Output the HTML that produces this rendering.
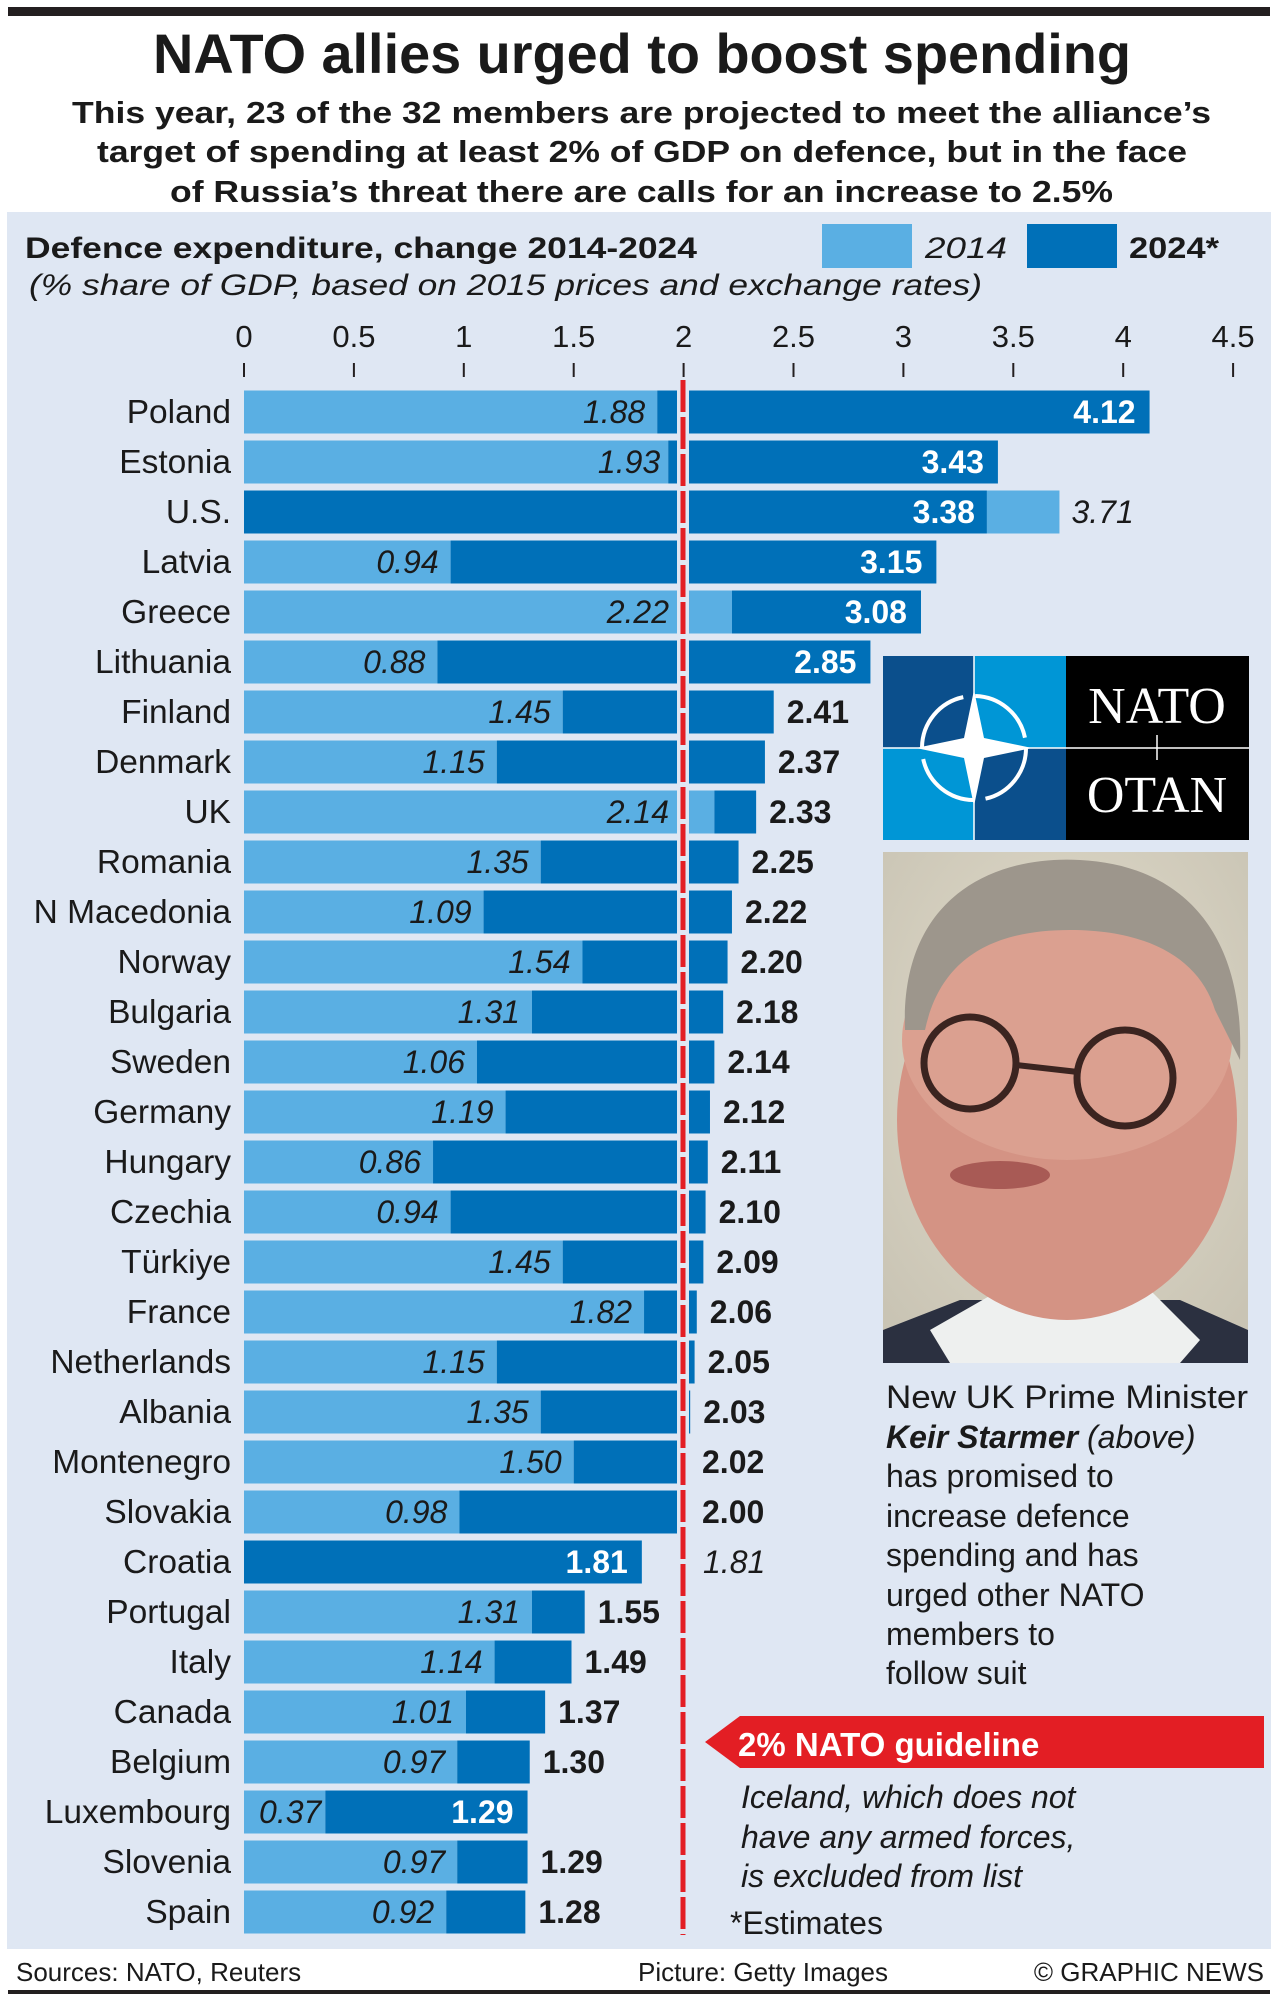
<!DOCTYPE html>
<html><head><meta charset="utf-8"><style>
html,body{margin:0;padding:0;background:#fff}
svg{display:block}
text{font-family:"Liberation Sans",Arial,sans-serif;fill:#1a1a1a}
</style></head><body>
<svg id="s" width="1278" height="1998" viewBox="0 0 1278 1998" xmlns="http://www.w3.org/2000/svg">
<rect x="0" y="0" width="1278" height="1998" fill="#fff"/>
<rect x="8" y="7" width="1262" height="9" fill="#231f20"/>
<text x="153" y="73" font-size="56" font-weight="bold" textLength="978" lengthAdjust="spacingAndGlyphs">NATO allies urged to boost spending</text>
<text x="72" y="123" font-size="31" font-weight="bold" textLength="1139" lengthAdjust="spacingAndGlyphs">This year, 23 of the 32 members are projected to meet the alliance’s</text>
<text x="97" y="162" font-size="31" font-weight="bold" textLength="1090" lengthAdjust="spacingAndGlyphs">target of spending at least 2% of GDP on defence, but in the face</text>
<text x="170" y="202" font-size="31" font-weight="bold" textLength="943" lengthAdjust="spacingAndGlyphs">of Russia’s threat there are calls for an increase to 2.5%</text>
<rect x="7" y="212" width="1264" height="1737" fill="#dfe7f3"/>
<text x="25" y="258" font-size="30" font-weight="bold" textLength="672" lengthAdjust="spacingAndGlyphs">Defence expenditure, change 2014-2024</text>
<text x="29" y="295" font-size="30" font-style="italic" textLength="953" lengthAdjust="spacingAndGlyphs">(% share of GDP, based on 2015 prices and exchange rates)</text>
<rect x="822" y="224" width="90" height="44" fill="#5aafe3"/>
<text x="925" y="258" font-size="30" font-style="italic" textLength="82" lengthAdjust="spacingAndGlyphs">2014</text>
<rect x="1027" y="224" width="90" height="44" fill="#0070b8"/>
<text x="1129" y="258" font-size="30" font-weight="bold" textLength="90" lengthAdjust="spacingAndGlyphs">2024*</text>
<g id="chart"></g>
<!-- NATO logo -->
<rect x="883" y="656" width="91" height="92" fill="#0b4f8c"/>
<rect x="974" y="656" width="92" height="92" fill="#0096d6"/>
<rect x="883" y="748" width="91" height="92" fill="#0096d6"/>
<rect x="974" y="748" width="92" height="92" fill="#0b4f8c"/>
<rect x="1066" y="656" width="183" height="184" fill="#000"/>
<line x1="974" y1="656" x2="974" y2="840" stroke="#fff" stroke-width="1.5"/>
<line x1="883" y1="748" x2="1249" y2="748" stroke="#fff" stroke-width="1.5"/>
<circle cx="974" cy="748" r="52" fill="none" stroke="#fff" stroke-width="4" stroke-dasharray="70 12"/>
<polygon points="974,690 984,738 1032,748 984,758 974,806 964,758 916,748 964,738" fill="#fff"/>
<text x="1157" y="723" font-size="52" text-anchor="middle" style="font-family:'Liberation Serif',serif;fill:#fff">NATO</text>
<text x="1157" y="812" font-size="52" text-anchor="middle" style="font-family:'Liberation Serif',serif;fill:#fff">OTAN</text>
<line x1="1157" y1="735" x2="1157" y2="760" stroke="#fff" stroke-width="1.5"/>
<!-- photo -->
<defs><clipPath id="ph"><rect x="883" y="852" width="365" height="511"/></clipPath>
<radialGradient id="bg" cx="0.5" cy="0.4" r="0.7"><stop offset="0" stop-color="#e3ddcc"/><stop offset="1" stop-color="#c9c4b4"/></radialGradient></defs>
<g clip-path="url(#ph)">
<rect x="883" y="852" width="365" height="511" fill="url(#bg)"/>
<path d="M883,1330 L960,1300 L1180,1300 L1248,1330 L1248,1363 L883,1363Z" fill="#2b3040"/>
<path d="M930,1330 L1000,1290 L1150,1290 L1200,1340 L1180,1363 L950,1363Z" fill="#eef0ef"/>
<ellipse cx="1067" cy="1120" rx="170" ry="200" fill="#d49384"/>
<ellipse cx="1067" cy="1040" rx="165" ry="120" fill="#dba090"/>
<path d="M905,1030 C900,900 990,855 1080,860 C1180,865 1245,930 1240,1060 L1215,1010 C1200,960 1150,930 1070,930 C990,930 940,960 925,1030Z" fill="#9d968c"/>
<circle cx="970" cy="1063" r="46" fill="none" stroke="#3b2420" stroke-width="7"/>
<circle cx="1125" cy="1078" r="48" fill="none" stroke="#3b2420" stroke-width="7"/>
<line x1="1016" y1="1065" x2="1078" y2="1072" stroke="#3b2420" stroke-width="6"/>
<ellipse cx="1000" cy="1175" rx="50" ry="14" fill="#a85a55"/>
</g>
<!-- caption -->
<g font-size="32">
<text x="886" y="1408" textLength="362" lengthAdjust="spacingAndGlyphs">New UK Prime Minister</text>
<text x="886" y="1448"><tspan font-weight="bold" font-style="italic">Keir Starmer</tspan><tspan font-style="italic"> (above)</tspan></text>
<text x="886" y="1487">has promised to</text>
<text x="886" y="1527">increase defence</text>
<text x="886" y="1566">spending and has</text>
<text x="886" y="1606">urged other NATO</text>
<text x="886" y="1645">members to</text>
<text x="886" y="1684">follow suit</text>
</g>
<polygon points="705,1742 740,1716 1264,1716 1264,1768 740,1768" fill="#e31e24"/>
<text x="738" y="1756" font-size="33" font-weight="bold" style="fill:#fff">2% NATO guideline</text>
<g font-size="32" font-style="italic">
<text x="741" y="1808">Iceland, which does not</text>
<text x="741" y="1848">have any armed forces,</text>
<text x="741" y="1887">is excluded from list</text>
</g>
<text x="730" y="1934" font-size="32">*Estimates</text>
<text x="16" y="1981" font-size="26">Sources: NATO, Reuters</text>
<text x="638" y="1981" font-size="26">Picture: Getty Images</text>
<text x="1264" y="1981" font-size="26" text-anchor="end">© GRAPHIC NEWS</text>
<rect x="8" y="1990" width="1262" height="4" fill="#231f20"/>
</svg>
<script>
(function(){
var NS="http://www.w3.org/2000/svg",g=document.getElementById("chart");
function el(t,a,txt){var e=document.createElementNS(NS,t);for(var k in a)e.setAttribute(k,a[k]);if(txt!=null)e.textContent=txt;g.appendChild(e);return e;}
var X0=244,S=219.8,L=683,LE=677,RS=689;
function X(v){return X0+v*S;}
for(var i=0;i<=9;i++){var v=i*0.5,x=X(v);
 el("text",{x:x,y:347,"font-size":31,"text-anchor":"middle"},(v%1==0?v.toFixed(0):v.toFixed(1)));
 el("rect",{x:x-1,y:363,width:2,height:14,fill:"#231f20"});}
var D=[["Poland",1.88,4.12],["Estonia",1.93,3.43],["U.S.",3.71,3.38],["Latvia",0.94,3.15],["Greece",2.22,3.08],["Lithuania",0.88,2.85],["Finland",1.45,2.41],["Denmark",1.15,2.37],["UK",2.14,2.33],["Romania",1.35,2.25],["N Macedonia",1.09,2.22],["Norway",1.54,2.20],["Bulgaria",1.31,2.18],["Sweden",1.06,2.14],["Germany",1.19,2.12],["Hungary",0.86,2.11],["Czechia",0.94,2.10],["Türkiye",1.45,2.09],["France",1.82,2.06],["Netherlands",1.15,2.05],["Albania",1.35,2.03],["Montenegro",1.50,2.02],["Slovakia",0.98,2.00],["Croatia",1.81,1.81],["Portugal",1.31,1.55],["Italy",1.14,1.49],["Canada",1.01,1.37],["Belgium",0.97,1.30],["Luxembourg",0.37,1.29],["Slovenia",0.97,1.29],["Spain",0.92,1.28]];
var LC="#5aafe3",DC="#0070b8";
function seg(a,b,y,c){
 var xa=X(a),xb=X(b);
 var l1=Math.max(xa,X0),r1=Math.min(xb,LE);
 if(r1>l1)el("rect",{x:l1,y:y,width:r1-l1,height:43,fill:c});
 var l2=Math.max(xa,RS),r2=xb;
 if(r2>l2)el("rect",{x:l2,y:y,width:r2-l2,height:43,fill:c});
}
function endx(v){var x=X(v);if(v>=2)return Math.max(x,RS);return Math.min(x,LE);}
var NF=32;
D.forEach(function(d,i){
 var cy=412+i*50,y=cy-21.5,n=d[0],a=d[1],b=d[2];
 el("text",{x:231,y:cy+11,"font-size":33.5,"text-anchor":"end"},n);
 if(n=="U.S."){seg(0,b,y,DC);seg(b,a,y,LC);
  el("text",{x:X(b)-12,y:cy+11,"font-size":NF,"font-weight":"bold","text-anchor":"end",style:"fill:#fff"},b.toFixed(2));
  el("text",{x:X(a)+12,y:cy+11,"font-size":NF,"font-style":"italic"},a.toFixed(2));return;}
 if(n=="Croatia"){seg(0,b,y,DC);
  el("text",{x:X(b)-14,y:cy+11,"font-size":NF,"font-weight":"bold","text-anchor":"end",style:"fill:#fff"},b.toFixed(2));
  el("text",{x:703,y:cy+11,"font-size":NF,"font-style":"italic"},a.toFixed(2));return;}
 seg(0,a,y,LC);seg(a,b,y,DC);
 var lx=Math.min(X(a),LE)-(a>=1.9?8:12);
 if(n=="Luxembourg")lx=X(a)-4;
 el("text",{x:lx,y:cy+11,"font-size":NF,"font-style":"italic","text-anchor":"end"},a.toFixed(2));
 if(b>=2.85||n=="Luxembourg"){
  el("text",{x:X(b)-14,y:cy+11,"font-size":NF,"font-weight":"bold","text-anchor":"end",style:"fill:#fff"},b.toFixed(2));
 }else{
  el("text",{x:endx(b)+13,y:cy+11,"font-size":NF,"font-weight":"bold"},b.toFixed(2));
 }
});
el("line",{x1:L,y1:380,x2:L,y2:1935,stroke:"#e31e24","stroke-width":5,"stroke-dasharray":"32 5"});
})();
</script>
</body></html>
